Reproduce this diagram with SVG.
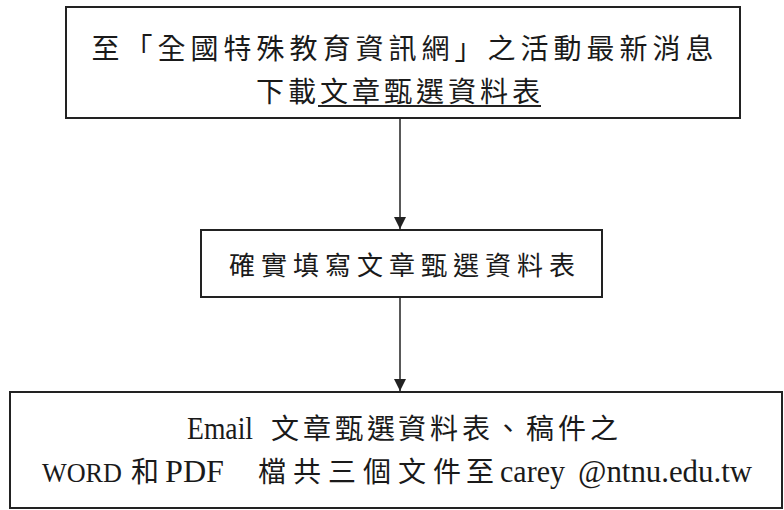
<svg xmlns="http://www.w3.org/2000/svg" width="784" height="510" viewBox="0 0 784 510">
<defs>
<style>
.box{fill:#fff;stroke:#222;stroke-width:2}
.t{font-family:"Liberation Serif","Noto Sans CJK TC",serif;fill:#1a1a1a}
.lat{font-size:31px}
.cj{font-size:28px}
.conn{stroke:#222;stroke-width:1.5;fill:none}
</style>
<marker id="arr" markerWidth="12" markerHeight="14" refX="12" refY="6" orient="auto" markerUnits="userSpaceOnUse">
<path d="M0,0 L12,6 L0,12 Z" fill="#222"/>
</marker>
</defs>
<rect width="784" height="510" fill="#fff"/>
<g id="n1">
<rect class="box" x="66" y="7" width="674" height="111"/>
<text class="t" x="405" y="59" font-size="28" letter-spacing="5" text-anchor="middle">至「全國特殊教育資訊網」之活動最新消息</text>
<text class="t" x="400" y="102" font-size="28" letter-spacing="4" text-anchor="middle">下載文章甄選資料表</text>
<line x1="318" y1="106" x2="541" y2="106" stroke="#222" stroke-width="2"/>
</g>
<g id="n2">
<rect class="box" x="201" y="230" width="401" height="67"/>
<text class="t" x="405" y="275" font-size="26" letter-spacing="6" text-anchor="middle">確實填寫文章甄選資料表</text>
</g>
<g id="n3">
<rect class="box" x="10" y="392" width="772" height="116"/>
<text class="t" y="439"><tspan class="lat" x="187" textLength="66" lengthAdjust="spacingAndGlyphs">Email</tspan><tspan class="cj" x="271 303 335 367 398 430 462 494 526 558 590">文章甄選資料表、稿件之</tspan></text>
<text class="t" y="482"><tspan x="42" font-size="26.5" textLength="80" lengthAdjust="spacingAndGlyphs">WORD</tspan><tspan class="cj" x="131">和</tspan><tspan class="lat" x="165" textLength="59" lengthAdjust="spacingAndGlyphs">PDF</tspan><tspan class="cj" x="258 293 328 363 398 433 466">檔共三個文件至</tspan><tspan class="lat" x="500" textLength="65" lengthAdjust="spacingAndGlyphs">carey</tspan><tspan class="lat" x="578" textLength="174" lengthAdjust="spacingAndGlyphs">@ntnu.edu.tw</tspan></text>
</g>
<g id="connectors">
<line class="conn" x1="400" y1="118" x2="400" y2="229" marker-end="url(#arr)"/>
<line class="conn" x1="400" y1="297" x2="400" y2="391" marker-end="url(#arr)"/>
</g>
</svg>
